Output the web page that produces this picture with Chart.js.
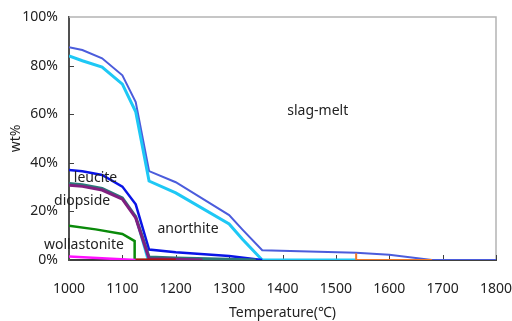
<!DOCTYPE html>
<html>
<head>
<meta charset="utf-8">
<script src="https://cdn.jsdelivr.net/npm/chart.js@4"></script>
<style>
  html, body { margin: 0; padding: 0; background: #fff; }
  #wrap { width: 512px; height: 321px; }
</style>
</head>
<body>
<div id="wrap"><canvas id="chart"></canvas></div>
<script>
// Temperatures (°C) and phase amounts (wt%)
const meltTemps = [1000, 1025, 1062, 1100, 1125, 1150, 1200, 1300, 1325, 1362, 1538, 1600, 1680, 1800];
const meltTotal = [87.6, 86.4, 83, 76, 65, 36.6, 32, 18.5, 12.5, 4, 3, 2.2, 0, 0];

const liquidTemps = [1000, 1025, 1062, 1100, 1125, 1150, 1200, 1300, 1325, 1362, 1538];
const liquidVals = [84, 82, 79.4, 72.4, 61, 32.5, 27.6, 14.8, 8.5, 0, 0];

const leuciteTemps = [1000, 1025, 1062, 1100, 1125, 1150, 1200, 1300, 1350, 1362];
const leuciteVals = [37, 36.5, 35, 30.2, 22.9, 4.3, 3.2, 1.6, 0.3, 0];

const diopsideTemps = [1000, 1025, 1062, 1100, 1125, 1150, 1200, 1300, 1350];
const diopsideVals = [31.5, 31, 29.5, 25.5, 17.8, 1.2, 0.8, 0.3, 0];

const purpleTemps = [1000, 1025, 1062, 1100, 1125, 1150, 1200, 1250];
const purpleVals = [30.8, 30.3, 28.8, 25, 17.3, 0.5, 0.3, 0];

const cyanDropTemps = [1125, 1147];
const cyanDropVals = [17, 0];

const wollTemps = [1000, 1050, 1100, 1123, 1123, 1150];
const wollVals = [14.1, 12.6, 10.7, 7.8, 0, 0];

const magentaTemps = [1000, 1062, 1125];
const magentaVals = [1.4, 0.7, 0];

const redTemps = [1125, 1150, 1200];
const redVals = [0.2, 0.2, 0.2];

const orangeTemps = [1538, 1538, 1680];
const orangeVals = [2.8, 0, 0];

const xTicks = [1000, 1100, 1200, 1300, 1400, 1500, 1600, 1700, 1800];
const yTicks = [0, 20, 40, 60, 80, 100];

// text labels in data coordinates [text, temp, value, align]
const phaseLabels = [
  ["slag-melt", 1466, 61.3, "center"],
  ["leucite", 1009, 33.7, "left"],
  ["diopside", 972, 24.3, "left"],
  ["anorthite", 1223, 12.8, "center"],
  ["wollastonite", 953, 6.2, "left"]
];

const pts = (xs, ys) => xs.map((x, i) => ({ x: x, y: ys[i] }));

const line = (data, color, width) => ({
  data: data,
  borderColor: color,
  borderWidth: width,
  pointRadius: 0,
  fill: false,
  tension: 0
});

const decorPlugin = {
  id: "decor",
  beforeDatasetsDraw(chart) {
    const { ctx, chartArea: a, scales } = chart;
    ctx.save();
    // gray top and right frame
    ctx.strokeStyle = "#b4b4b4";
    ctx.lineWidth = 1.5;
    ctx.beginPath();
    ctx.moveTo(a.left, a.top);
    ctx.lineTo(a.right, a.top);
    ctx.lineTo(a.right, a.bottom);
    ctx.stroke();
    // inner tick marks
    ctx.strokeStyle = "#404040";
    ctx.lineWidth = 1;
    xTicks.slice(1).forEach((t) => {
      const px = Math.round(scales.x.getPixelForValue(t)) + 0.5;
      ctx.beginPath();
      ctx.moveTo(px, a.bottom);
      ctx.lineTo(px, a.bottom - 5);
      ctx.stroke();
    });
    yTicks.slice(1, -1).forEach((t) => {
      const py = Math.round(scales.y.getPixelForValue(t)) + 0.5;
      ctx.beginPath();
      ctx.moveTo(a.left, py);
      ctx.lineTo(a.left + 5, py);
      ctx.stroke();
    });
    ctx.restore();
  },
  afterDatasetsDraw(chart) {
    const { ctx, scales } = chart;
    ctx.save();
    ctx.font = "14px 'Noto Sans'";
    ctx.fillStyle = "#222";
    ctx.textBaseline = "middle";
    phaseLabels.forEach(([text, t, v, align]) => {
      ctx.textAlign = align;
      ctx.fillText(text, scales.x.getPixelForValue(t), scales.y.getPixelForValue(v));
    });
    ctx.restore();
  }
};

new Chart(document.getElementById("chart"), {
  type: "line",
  data: {
    datasets: [
      line(pts(redTemps, redVals), "#b01010", 2),
      line(pts(magentaTemps, magentaVals), "#ff10ff", 2.5),
      line(pts(wollTemps, wollVals), "#0a8a0a", 2.5),
      line(pts(purpleTemps, purpleVals), "#80207f", 3),
      line(pts(diopsideTemps, diopsideVals), "#2b7878", 3),
      line(pts(cyanDropTemps, cyanDropVals), "#20d0f5", 1.5),
      line(pts(leuciteTemps, leuciteVals), "#0a14e6", 2.5),
      line(pts(orangeTemps, orangeVals), "#f07828", 2),
      line(pts(liquidTemps, liquidVals), "#1ec8f5", 3),
      line(pts(meltTemps, meltTotal), "#4b5cdc", 2)
    ]
  },
  options: {
    responsive: true,
    maintainAspectRatio: false,
    animation: false,
    events: [],
    layout: { padding: { left: 0, top: 17, right: 16, bottom: 0 } },
    plugins: { legend: { display: false }, tooltip: { enabled: false } },
    scales: {
      x: {
        type: "linear",
        min: 1000,
        max: 1800,
        afterFit: (s) => {
          s.height = 61;
          s.paddingLeft = 0;
          s.paddingRight = 0;
        },
        afterBuildTicks: (s) => { s.ticks = xTicks.map((v) => ({ value: v })); },
        grid: { drawOnChartArea: false, drawTicks: false },
        border: { color: "#404040", width: 2 },
        ticks: {
          padding: 21,
          color: "#222",
          font: { family: "'Noto Sans'", size: 14 },
          callback: (v) => String(v)
        },
        title: {
          display: true,
          text: "Temperature(℃)",
          color: "#222",
          font: { family: "'Noto Sans'", size: 14 },
          padding: { top: 2, bottom: 0 }
        }
      },
      y: {
        min: 0,
        max: 100,
        afterFit: (s) => {
          s.width = 69;
          s.paddingTop = 0;
          s.paddingBottom = 0;
        },
        afterBuildTicks: (s) => { s.ticks = yTicks.map((v) => ({ value: v })); },
        grid: { drawOnChartArea: false, drawTicks: false },
        border: { color: "#505050", width: 2 },
        ticks: {
          padding: 11,
          color: "#222",
          font: { family: "'Noto Sans'", size: 14 },
          callback: (v) => v + "%"
        },
        title: {
          display: true,
          text: "wt%",
          color: "#222",
          font: { family: "'Noto Sans'", size: 14 },
          padding: { top: 8, bottom: 0 }
        }
      }
    }
  },
  plugins: [decorPlugin]
});
</script>
</body>
</html>
